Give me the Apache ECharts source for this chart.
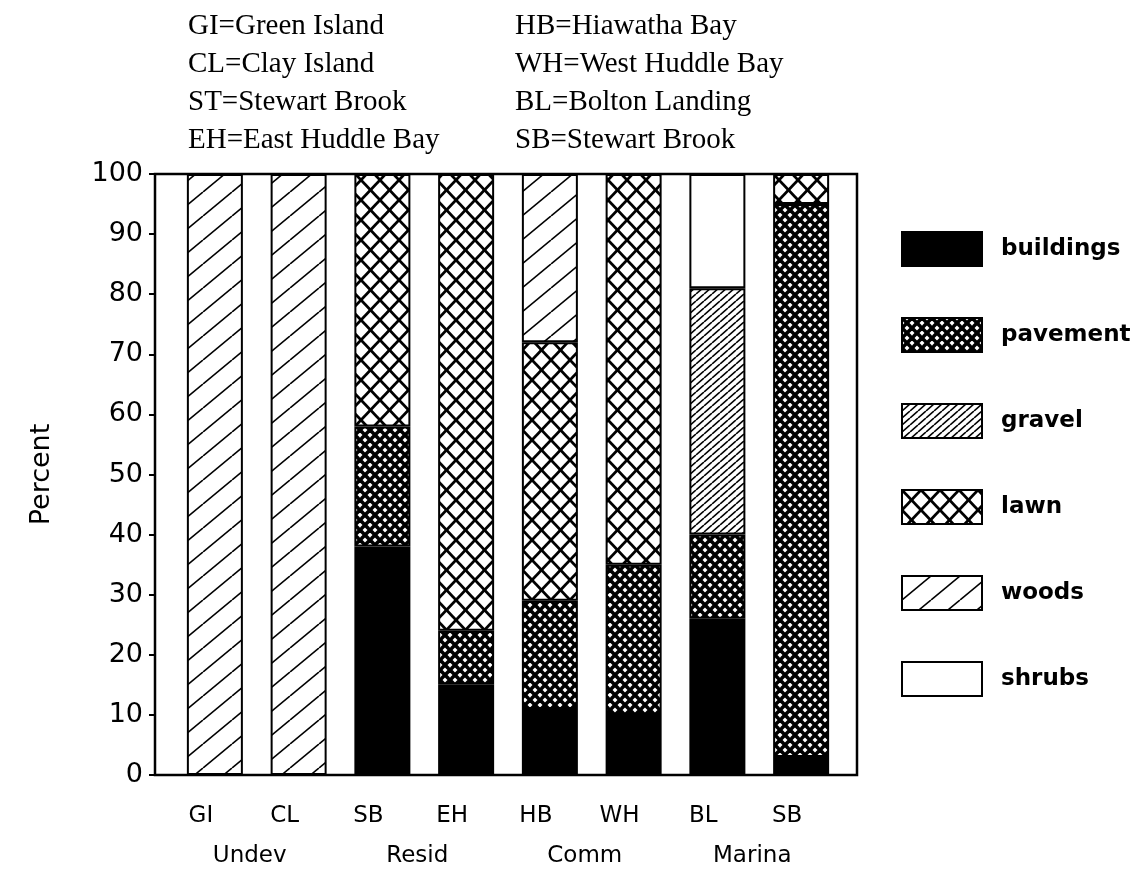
<!DOCTYPE html>
<html>
<head>
<meta charset="utf-8">
<script src="https://cdn.jsdelivr.net/npm/echarts@6/dist/echarts.min.js"></script>
<style>
html,body{margin:0;padding:0;background:#fff;}
#chart{width:1147px;height:876px;}
</style>
</head>
<body>
<div id="chart"></div>
<script>
// ---- data ----
const sites = ['GI', 'CL', 'SB', 'EH', 'HB', 'WH', 'BL', 'SB'];
const groups = ['Undev', 'Resid', 'Comm', 'Marina'];
const yTicks = [0, 10, 20, 30, 40, 50, 60, 70, 80, 90, 100];
const buildings = [0, 0, 38, 15, 11, 10, 26, 3];
const pavement  = [0, 0, 20, 9, 18, 25, 14, 92];
const gravel    = [0, 0, 0, 0, 0, 0, 41, 0];
const lawn      = [0, 0, 42, 76, 43, 65, 0, 5];
const woods     = [100, 100, 0, 0, 28, 0, 0, 0];
const shrubs    = [0, 0, 0, 0, 0, 0, 19, 0];
const seriesNames = ['buildings', 'pavement', 'gravel', 'lawn', 'woods', 'shrubs'];
const seriesValues = [buildings, pavement, gravel, lawn, woods, shrubs];
const keyLeft = ['GI=Green Island', 'CL=Clay Island', 'ST=Stewart Brook', 'EH=East Huddle Bay'];
const keyRight = ['HB=Hiawatha Bay', 'WH=West Huddle Bay', 'BL=Bolton Landing', 'SB=Stewart Brook'];

// ---- patterns ----
function hatch(w, h, lw, fwd, back, bg) {
  const c = document.createElement('canvas');
  c.width = w; c.height = h;
  const g = c.getContext('2d');
  g.fillStyle = bg || '#fff';
  g.fillRect(0, 0, w, h);
  g.strokeStyle = '#000';
  g.lineWidth = lw;
  for (let dx = -w; dx <= w; dx += w) {
    if (fwd) { g.beginPath(); g.moveTo(dx, h); g.lineTo(dx + w, 0); g.stroke(); }
    if (back) { g.beginPath(); g.moveTo(dx, 0); g.lineTo(dx + w, h); g.stroke(); }
  }
  return { image: c, repeat: 'repeat' };
}
const fills = {
  buildings: '#000',
  pavement: hatch(10, 10, 3.6, true, true),
  gravel: hatch(8, 7, 1.6, true, false),
  lawn: hatch(19, 20, 2.8, true, true),
  woods: hatch(29, 24, 1.6, true, false),
  shrubs: '#fff'
};

const chart = echarts.init(document.getElementById('chart'), null, { renderer: 'canvas' });

const series = seriesNames.map((name, i) => ({
  name: name,
  type: 'bar',
  stack: 'total',
  xAxisIndex: 0,
  yAxisIndex: 0,
  barWidth: 56,
  data: seriesValues[i].map(v => (v === 0 ? '-' : v)),
  itemStyle: { color: fills[name], borderColor: '#000', borderWidth: 2 },
  emphasis: { disabled: true },
  animation: false
}));

const keyStyle = { fontFamily: 'Liberation Serif', fontSize: 29, fontWeight: 'normal', color: '#000', lineHeight: 38 };

const option = {
  animation: false,
  backgroundColor: '#fff',
  title: [
    { left: 183, top: 2, text: keyLeft.join('\n'), textStyle: keyStyle },
    { left: 510, top: 2, text: keyRight.join('\n'), textStyle: keyStyle }
  ],
  legend: {
    orient: 'vertical',
    left: 896,
    top: 226,
    itemWidth: 80,
    itemHeight: 34,
    itemGap: 50,
    icon: 'rect',
    selectedMode: false,
    data: seriesNames,
    itemStyle: { borderColor: '#000', borderWidth: 2 },
    textStyle: { fontFamily: 'DejaVu Sans', fontSize: 23, fontWeight: 'bold', color: '#000', padding: [0, 0, 0, 14] }
  },
  grid: [
    { left: 173, right: 304, top: 174, bottom: 101, containLabel: false },
    { left: 155, right: 290, top: 174, bottom: 101, show: true, borderColor: '#000', borderWidth: 2.5, backgroundColor: 'transparent' }
  ],
  xAxis: [
    {
      type: 'category', gridIndex: 0, data: sites,
      axisLine: { show: false }, axisTick: { show: false },
      axisLabel: { margin: 30, fontFamily: 'DejaVu Sans', fontSize: 23, color: '#000', padding: [0, 28, 0, 0] }
    },
    {
      type: 'category', gridIndex: 0, data: groups, position: 'bottom', offset: 40,
      axisLine: { show: false }, axisTick: { show: false },
      axisLabel: { margin: 30, fontFamily: 'DejaVu Sans', fontSize: 23, color: '#000', padding: [0, 14, 0, 0] }
    },
    { type: 'value', gridIndex: 1, show: false }
  ],
  yAxis: [
    {
      type: 'value', gridIndex: 0, min: 0, max: 100, interval: 10, offset: 18,
      axisLine: { show: true, lineStyle: { color: '#000', width: 2 } },
      axisTick: { show: true, length: 6, lineStyle: { color: '#000', width: 2 } },
      splitLine: { show: false },
      axisLabel: {
        margin: 12, fontFamily: 'DejaVu Sans', fontSize: 27, color: '#000',
        formatter: v => (yTicks.indexOf(v) >= 0 ? String(v) : '')
      },
      name: 'Percent', nameLocation: 'middle', nameRotate: 90, nameGap: 100,
      nameTextStyle: { fontFamily: 'DejaVu Sans', fontSize: 27, color: '#000' }
    },
    { type: 'value', gridIndex: 1, show: false }
  ],
  series: series
};
chart.setOption(option);
</script>
</body>
</html>
